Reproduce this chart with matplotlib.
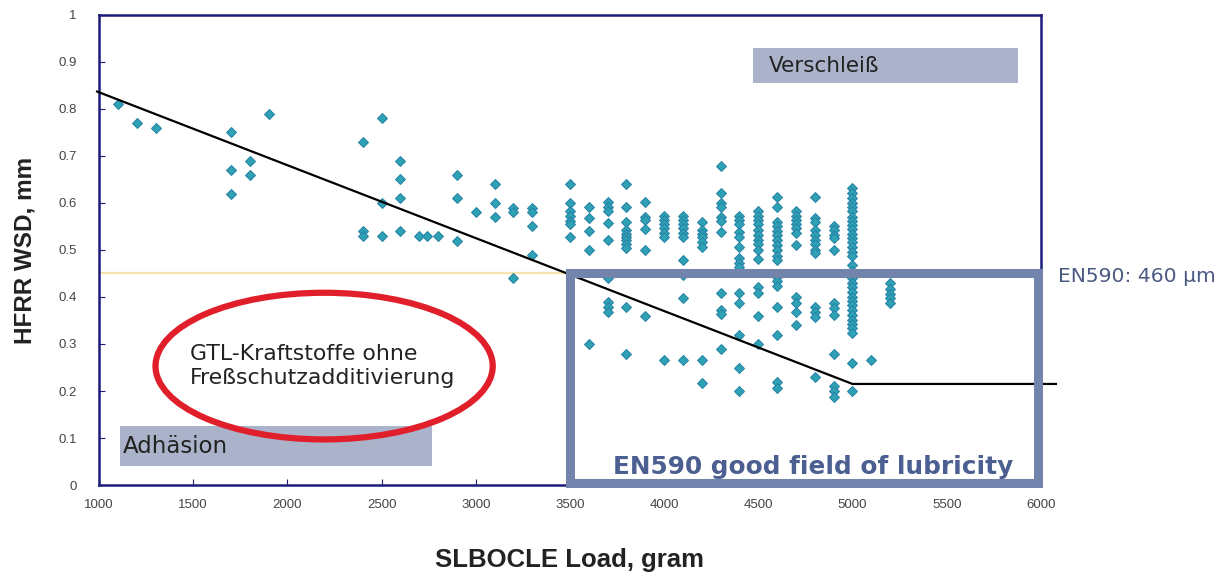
import matplotlib
matplotlib.use("Agg")
import matplotlib.pyplot as plt
from matplotlib.patches import Ellipse, Rectangle

# ---------------- data ----------------
load_columns = [1100, 1200, 1300, 1700, 1800, 1900, 2400, 2500, 2600, 2700, 2740,
                2800, 2900, 3000, 3100, 3200, 3300, 3500, 3600, 3700, 3800, 3900,
                4000, 4100, 4200, 4300, 4400, 4500, 4600, 4700, 4800, 4900, 5000,
                5100, 5200]
wsd_by_column = [
    [0.81],
    [0.77],
    [0.76],
    [0.75, 0.67, 0.62],
    [0.69, 0.66],
    [0.79],
    [0.73, 0.54, 0.53],
    [0.78, 0.60, 0.53],
    [0.69, 0.65, 0.61, 0.54],
    [0.53],
    [0.53],
    [0.53],
    [0.66, 0.61, 0.52],
    [0.58],
    [0.64, 0.60, 0.57],
    [0.59, 0.58, 0.44],
    [0.59, 0.58, 0.55, 0.49],
    [0.64, 0.60, 0.583, 0.573, 0.562, 0.555, 0.528],
    [0.592, 0.569, 0.54, 0.499, 0.30],
    [0.603, 0.592, 0.583, 0.558, 0.521, 0.44, 0.39, 0.379, 0.369],
    [0.640, 0.591, 0.560, 0.543, 0.535, 0.528, 0.521, 0.512, 0.505, 0.379, 0.279],
    [0.602, 0.571, 0.564, 0.544, 0.500, 0.360],
    [0.572, 0.564, 0.555, 0.546, 0.537, 0.527, 0.267],
    [0.572, 0.564, 0.555, 0.546, 0.537, 0.527, 0.479, 0.447, 0.397, 0.267],
    [0.560, 0.543, 0.534, 0.527, 0.518, 0.507, 0.267, 0.218],
    [0.679, 0.621, 0.599, 0.591, 0.571, 0.562, 0.539, 0.408, 0.372, 0.364, 0.289],
    [0.572, 0.564, 0.555, 0.539, 0.527, 0.507, 0.482, 0.473, 0.464, 0.408, 0.387,
     0.319, 0.248, 0.199],
    [0.582, 0.572, 0.564, 0.555, 0.543, 0.532, 0.521, 0.513, 0.501, 0.480, 0.421,
     0.409, 0.360, 0.300],
    [0.613, 0.591, 0.560, 0.551, 0.541, 0.532, 0.521, 0.511, 0.500, 0.487, 0.479,
     0.443, 0.433, 0.423, 0.379, 0.319, 0.220, 0.206],
    [0.582, 0.572, 0.564, 0.555, 0.546, 0.537, 0.511, 0.401, 0.388, 0.369, 0.340],
    [0.613, 0.567, 0.560, 0.543, 0.532, 0.521, 0.512, 0.501, 0.493, 0.379, 0.369,
     0.358, 0.229],
    [0.550, 0.543, 0.532, 0.525, 0.500, 0.388, 0.376, 0.362, 0.279, 0.211, 0.199,
     0.188],
    [0.631, 0.622, 0.610, 0.599, 0.591, 0.582, 0.571, 0.562, 0.553, 0.544, 0.535,
     0.525, 0.516, 0.507, 0.496, 0.487, 0.468, 0.456, 0.447, 0.440, 0.430, 0.422,
     0.411, 0.401, 0.392, 0.383, 0.372, 0.362, 0.351, 0.343, 0.333, 0.323, 0.259,
     0.199],
    [0.267],
    [0.429, 0.418, 0.406, 0.397, 0.387],
]

trend_x = [990, 5000, 6080]
trend_y = [0.837, 0.215, 0.215]

en590_limit = 0.45
good_field_x = [3500, 5985]
good_field_y = [0.004, 0.45]

x_ticks = [1000, 1500, 2000, 2500, 3000, 3500, 4000, 4500, 5000, 5500, 6000]
y_ticks = [0, 0.1, 0.2, 0.3, 0.4, 0.5, 0.6, 0.7, 0.8, 0.9, 1.0]
y_tick_labels = ["0", "0.1", "0.2", "0.3", "0.4", "0.5", "0.6", "0.7", "0.8", "0.9", "1"]

# ---------------- figure ----------------
plt.rcParams['font.family'] = ['Liberation Sans', 'DejaVu Sans']
fig = plt.figure(figsize=(12.27, 5.74), dpi=100)
ax = fig.add_axes([0.0807, 0.155, 0.7676, 0.819])
ax.set_xlim(1000, 6000)
ax.set_ylim(0, 1)

xs, ys = [], []
for lx, col in zip(load_columns, wsd_by_column):
    for v in col:
        xs.append(lx)
        ys.append(v)

# EN590 limit line (yellow)
ax.plot([1000, good_field_x[0]], [en590_limit, en590_limit], color='#f6e3ad',
        lw=1.6, zorder=1)

ax.plot(xs, ys, linestyle='none', marker='D', markersize=4.8,
        markerfacecolor='#2ea2b4', markeredgecolor='#2680a6', markeredgewidth=0.7,
        zorder=3)

ax.plot(trend_x, trend_y, color='black', lw=1.6, zorder=4, clip_on=False)

# Good field rectangle
rect = Rectangle((good_field_x[0], good_field_y[0]),
                 good_field_x[1] - good_field_x[0], good_field_y[1] - good_field_y[0],
                 fill=False, edgecolor='#7284ab', lw=6.5, zorder=5, clip_on=False)
ax.add_patch(rect)

body_font = ['DejaVu Sans']

# Boxes
ax.add_patch(Rectangle((4470, 0.855), 1408, 0.075, facecolor='#aab3c9',
                       edgecolor='none', zorder=2))
ax.text(4555, 0.891, 'Verschleiß', fontsize=15.5, family=body_font, va='center',
        ha='left', color='#222222', zorder=6)
ax.add_patch(Rectangle((1112, 0.040), 1657, 0.086, facecolor='#aab3c9',
                       edgecolor='none', zorder=2))
ax.text(1125, 0.083, 'Adhäsion', fontsize=16.5, family=body_font, va='center',
        ha='left', color='#222222', zorder=6)

# Red ellipse
ax.add_patch(Ellipse((2195, 0.253), 1790, 0.312, fill=False,
                     edgecolor='#e01f2b', lw=4.5, zorder=6))
ax.text(1484, 0.253, 'GTL-Kraftstoffe ohne\nFreßschutzadditivierung', fontsize=15.8,
        family=body_font, ha='left', va='center', multialignment='left',
        color='#222222', linespacing=1.3, zorder=7)

ax.text(4790, 0.038, 'EN590 good field of lubricity', fontsize=17.8,
        family=body_font, fontweight='bold', ha='center', va='center',
        color='#4b5f90', zorder=7)
ax.text(6090, 0.443, 'EN590: 460 µm', fontsize=14.6, family=body_font, ha='left',
        va='center', color='#4b5a82', clip_on=False)

# Axes styling
for s in ax.spines.values():
    s.set_color('#1c1c7c')
    s.set_linewidth(1.8)
ax.set_xticks(x_ticks)
ax.set_xticklabels([str(t) for t in x_ticks])
ax.set_yticks(y_ticks)
ax.set_yticklabels(y_tick_labels)
ax.tick_params(axis='both', direction='in', length=4, width=0.8, color='#1c1c7c',
               labelsize=9.5, labelcolor='#444444')
ax.tick_params(axis='x', pad=10)
ax.tick_params(axis='y', pad=16)

ax.set_xlabel('SLBOCLE Load, gram', fontsize=18.5, fontweight='bold', labelpad=27,
              color='#222222')
ax.set_ylabel('HFRR WSD, mm', fontsize=17.5, fontweight='bold', labelpad=16,
              color='#222222')

fig.savefig('out.png', dpi=100)
